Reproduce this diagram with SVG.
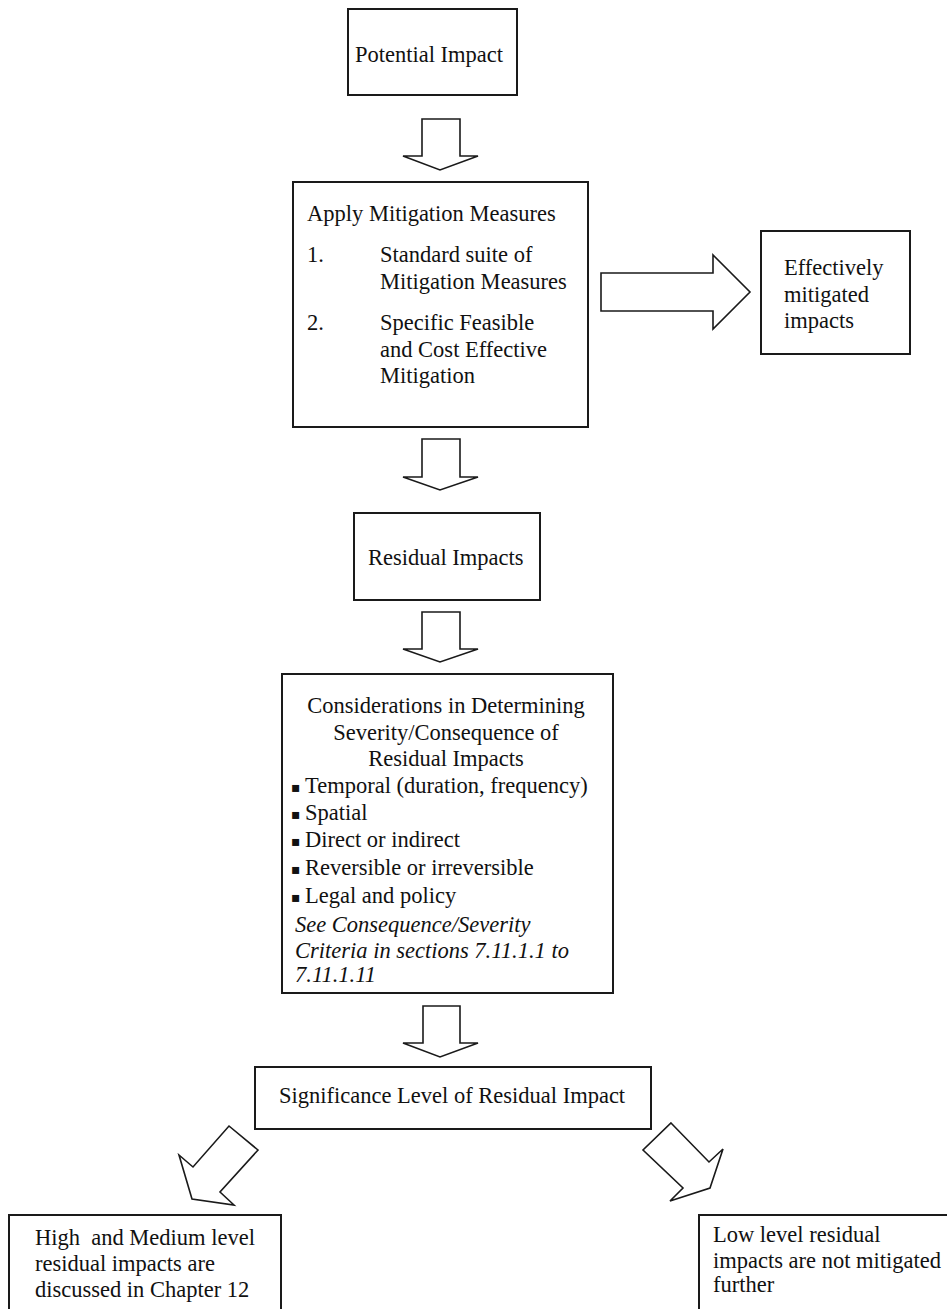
<svg xmlns="http://www.w3.org/2000/svg" width="947" height="1309" viewBox="0 0 947 1309">
<style>
.box{fill:#fff;stroke:#1a1a1a;stroke-width:2}
.arr{fill:#fff;stroke:#1a1a1a;stroke-width:1.6;stroke-linejoin:miter}
text{font-family:"Liberation Serif","Times New Roman",serif;font-size:22.5px;fill:#111}
.it{font-style:italic}
.mid{text-anchor:middle}
.bul{font-family:"DejaVu Sans",sans-serif;font-size:14px}
</style>
<rect width="947" height="1309" fill="#fff"/>
<g id="connectors">
<polygon class="arr" points="422,119 460,119 460,156 478,156 440,170 403,156 422,156"/>
<polygon class="arr" points="422,439 460,439 460,477 478,477 440,490 403,477 422,477"/>
<polygon class="arr" points="422,612 460,612 460,649 478,649 440,662 403,649 422,649"/>
<polygon class="arr" points="423,1006 460,1006 460,1043 478,1043 440,1057 403,1043 423,1043"/>
<polygon class="arr" points="601,273 713,273 713,255 750,292 713,329 713,311 601,311"/>
<polygon class="arr" points="229,1126 258,1150 220,1192 234,1205 192,1199 179,1155 193,1167"/>
<polygon class="arr" points="671,1123 709,1162 723,1149 710,1188 670,1201 683,1188 643,1150"/>
</g>
<g id="potential">
<rect class="box" x="348" y="9" width="169" height="86"/>
<text x="355" y="62">Potential Impact</text>
</g>
<g id="apply">
<rect class="box" x="293" y="182" width="295" height="245"/>
<text x="307" y="221">Apply Mitigation Measures</text>
<text x="307" y="262">1.</text>
<text x="380" y="262">Standard suite of</text>
<text x="380" y="289">Mitigation Measures</text>
<text x="307" y="330">2.</text>
<text x="380" y="330">Specific Feasible</text>
<text x="380" y="357">and Cost Effective</text>
<text x="380" y="383">Mitigation</text>
</g>
<g id="effective">
<rect class="box" x="761" y="231" width="149" height="123"/>
<text x="784" y="275">Effectively</text>
<text x="784" y="302">mitigated</text>
<text x="784" y="328">impacts</text>
</g>
<g id="residual">
<rect class="box" x="354" y="513" width="186" height="87"/>
<text x="368" y="565">Residual Impacts</text>
</g>
<g id="considerations">
<rect class="box" x="282" y="674" width="331" height="319"/>
<text class="mid" x="446" y="713">Considerations in Determining</text>
<text class="mid" x="446" y="740">Severity/Consequence of</text>
<text class="mid" x="446" y="766">Residual Impacts</text>
<text x="291" y="793"><tspan class="bul" dy="-1">▪</tspan><tspan x="305" dy="1">Temporal (duration, frequency)</tspan></text>
<text x="291" y="820"><tspan class="bul" dy="-1">▪</tspan><tspan x="305" dy="1">Spatial</tspan></text>
<text x="291" y="847"><tspan class="bul" dy="-1">▪</tspan><tspan x="305" dy="1">Direct or indirect</tspan></text>
<text x="291" y="875"><tspan class="bul" dy="-1">▪</tspan><tspan x="305" dy="1">Reversible or irreversible</tspan></text>
<text x="291" y="903"><tspan class="bul" dy="-1">▪</tspan><tspan x="305" dy="1">Legal and policy</tspan></text>
<text class="it" x="295" y="932">See Consequence/Severity</text>
<text class="it" x="295" y="958">Criteria in sections 7.11.1.1 to</text>
<text class="it" x="295" y="982">7.11.1.11</text>
</g>
<g id="significance">
<rect class="box" x="255" y="1067" width="396" height="62"/>
<text x="279" y="1103">Significance Level of Residual Impact</text>
</g>
<g id="high">
<rect class="box" x="9" y="1215" width="272" height="100"/>
<text x="35" y="1245" xml:space="preserve">High  and Medium level</text>
<text x="35" y="1271">residual impacts are</text>
<text x="35" y="1297">discussed in Chapter 12</text>
</g>
<g id="low">
<rect class="box" x="699" y="1215" width="260" height="100"/>
<text x="713" y="1242">Low level residual</text>
<text x="713" y="1268">impacts are not mitigated</text>
<text x="713" y="1292">further</text>
</g>
</svg>
